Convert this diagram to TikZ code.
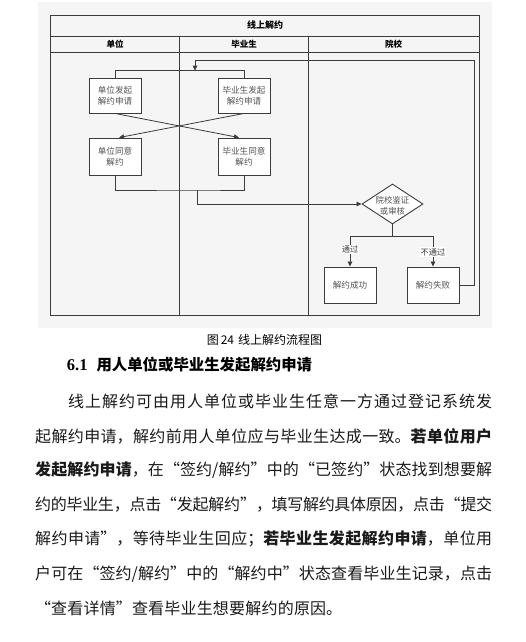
\documentclass[tikz,border=0pt]{standalone}
\usepackage{fontspec}
\setmainfont{Noto Sans CJK SC}
\newfontfamily\latinserif{Liberation Serif}
\usetikzlibrary{arrows.meta,shapes.geometric}
\XeTeXlinebreaklocale "zh"
\XeTeXlinebreakskip=0pt plus 6pt minus 1pt
\definecolor{bgc}{HTML}{F5F5F5}
\definecolor{lnc}{HTML}{3C3C3C}
\definecolor{txc}{HTML}{555555}
\definecolor{bodyc}{HTML}{1A1A1A}
\newcommand\jline[2]{\parbox{#1}{\parindent=0pt\parfillskip=0pt\leftskip=0pt\rightskip=0pt #2}}
\tikzset{
  frameline/.style={draw=lnc, line width=0.9pt},
  flowbox/.style={draw=lnc, line width=0.9pt, fill=white, minimum width=52pt, minimum height=36pt, inner sep=1pt, align=center, font=\fontsize{8.6}{11}\selectfont, text=txc},
  flowdia/.style={diamond, draw=lnc, line width=0.9pt, fill=white, minimum width=61pt, minimum height=40pt, inner sep=0pt},
  flowtext/.style={align=center, inner sep=0pt, font=\fontsize{8.4}{11}\selectfont, text=txc},
  conn/.style={draw=lnc, line width=0.8pt},
  arr/.style={conn, -{Triangle[length=5pt,width=4.5pt]}},
  lab/.style={fill=white, inner sep=1pt, font=\fontsize{8.2}{9}\selectfont, text=lnc},
  hdr/.style={font=\bfseries\fontsize{8.5}{10}\selectfont, text=black},
  bodyline/.style={anchor=west, inner sep=0pt, font=\fontsize{16}{18}\selectfont, text=bodyc},
}
\begin{document}
\begin{tikzpicture}[x=1pt,y=-1pt]
\useasboundingbox (0,0) rectangle (526,642);
\fill[white] (0,0) rectangle (526,642);
% background of the figure
\fill[bgc] (38,2.5) rectangle (492,328);
% pool frame
\draw[frameline] (50.7,15) rectangle (479,315.7);
\draw[frameline] (50.7,36) -- (479,36);
\draw[frameline] (50.7,52) -- (479,52);
\draw[frameline] (179.7,36) -- (179.7,315.7);
\draw[frameline] (308,36) -- (308,315.7);
\node[font=\bfseries\fontsize{9}{10}\selectfont] (title) at (265,25.5) {线上解约};
\node[hdr] (h1) at (115,44) {单位};
\node[hdr] (h2) at (244,44) {毕业生};
\node[hdr] (h3) at (393.5,44) {院校};
% nodes
\node[flowbox, minimum height=35pt] (b1) at (115,95.5) {单位发起\\解约申请};
\node[flowbox, minimum height=35pt] (b2) at (244,95.5) {毕业生发起\\解约申请};
\node[flowbox, minimum height=37pt] (b3) at (115,156.5) {单位同意\\解约};
\node[flowbox, minimum height=37pt] (b4) at (244,156.5) {毕业生同意\\解约};
\node[flowdia] (d) at (392.5,204) {};
\node[flowtext] (dtext) at ([yshift=-1.5pt]d.center) {院校鉴证\\或审核};
\node[flowbox] (s) at (350,285) {解约成功};
\node[flowbox] (f) at (433,285) {解约失败};
% connectors
\coordinate (topjoin) at (195,70.7);
\coordinate (loopR) at (474,60);
\coordinate (merge) at (197,190);
\coordinate (split) at (392.5,236);
\draw[conn] (b1.north) |- (topjoin) -| (b2.north);
\draw[arr] (f.east) -| (loopR) -| (topjoin);
\draw[arr] (b1.south) -- ([xshift=-5pt]b4.north);
\draw[arr] (b2.south) -- ([xshift=4pt]b3.north);
\draw[conn] (b3.south) |- (merge) -| (b4.south);
\draw[arr] (merge) |- (d.west);
\draw[conn] (d.south) -- (split);
\draw[arr] (split) -| (s.north) node[lab, pos=0.72] {通过};
\draw[arr] (split) -| (f.north) node[lab, pos=0.76] {不通过};
% caption
\node[font=\fontsize{12}{14}\selectfont, text=black] (cap) at (264.5,340) {图\,24\,\,线上解约流程图};
% heading
\node[anchor=west, inner sep=0pt, font=\bfseries\fontsize{15.4}{18}\selectfont, text=black] (head) at (66.7,365) {{\latinserif\bfseries\fontsize{16.5}{18}\selectfont 6.1}\hspace{9pt}用人单位或毕业生发起解约申请};
% body text
\node[bodyline] (l1) at (68,401.7) {\jline{424pt}{线上解约可由用人单位或毕业生任意一方通过登记系统发}};
\node[bodyline] (l2) at (35,436.1) {\jline{457pt}{起解约申请，解约前用人单位应与毕业生达成一致。{\bfseries 若单位用户}}};
\node[bodyline] (l3) at (35,470.5) {\jline{457pt}{{\bfseries 发起解约申请}，在“签约/解约”中的“已签约”状态找到想要解}};
\node[bodyline] (l4) at (35,504.9) {\jline{457pt}{约的毕业生，点击“发起解约”，填写解约具体原因，点击“提交}};
\node[bodyline] (l5) at (35,539.3) {\jline{457pt}{解约申请”，等待毕业生回应；{\bfseries 若毕业生发起解约申请}，单位用}};
\node[bodyline] (l6) at (35,573.7) {\jline{457pt}{户可在“签约/解约”中的“解约中”状态查看毕业生记录，点击}};
\node[bodyline] (l7) at (35,608.1) {\jline{307pt}{“查看详情”查看毕业生想要解约的原因。}};
\end{tikzpicture}
\end{document}
